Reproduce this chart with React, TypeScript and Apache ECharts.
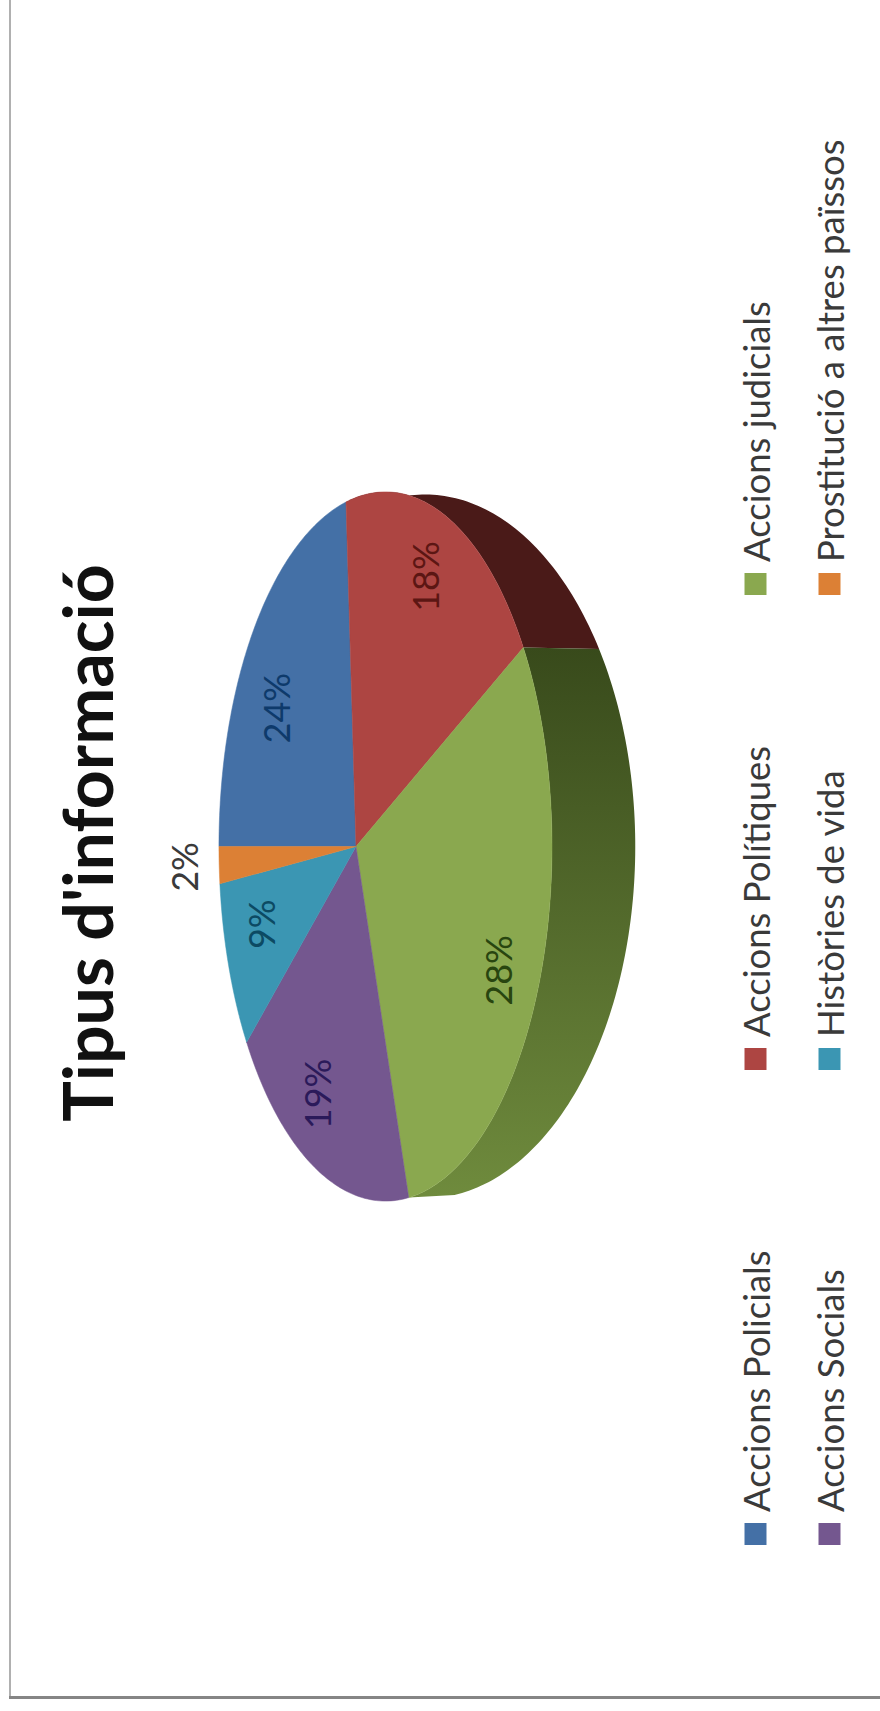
import React, { useEffect, useRef } from "react";
import * as echarts from "echarts";

const titleText = "Tipus d'informació";
const categories = [
  "Accions Policials",
  "Accions Polítiques",
  "Accions judicials",
  "Accions Socials",
  "Històries de vida",
  "Prostitució a altres païssos",
];
const legendNames = [
  "Accions Policials",
  "Accions Socials",
  "Accions Polítiques",
  "Històries de vida",
  "Accions judicials",
  "Prostitució a altres païssos",
];
const shareValues = [24, 18, 28, 19, 9, 2];
const sliceColors = ["#4470A6", "#AD4542", "#8AA84F", "#74578F", "#3B96B3", "#DC8035"];
const labelColors = ["#0E3A6B", "#5C1613", "#28450F", "#2B1A5A", "#0C4A63", "#3A3A3A"];
const labelNudges = [[-25, 0], [25, 7], [-14, 14], [-5, -6], [15, 4], [-6, -65]];
const FONT = "Lato, Carlito, sans-serif";

// projection of the disc, in the un-rotated chart's coordinates
const CU = 864.5, CV = 356, AX = 349, BX = 161.3, PERSP = 0.177;
const WALL_SHIFT = 32, WALL_SCALE_U = 0.9926, WALL_SCALE_V = 1.2616;
const RAD = Math.PI / 180;
const total = shareValues.reduce((s, v) => s + v, 0);

function project(deg: number, r: number, shift = 0, su = 1, sv = 1): number[] {
  const a = Math.sin(deg * RAD) * r;
  const b = -Math.cos(deg * RAD) * r;
  const w = 1 - PERSP * b;
  return [CU + (su * AX * a) / w, CV + shift + (sv * BX * b) / w];
}
function arc(from: number, to: number, r: number, shift = 0, su = 1, sv = 1): number[][] {
  const n = Math.max(2, Math.ceil(to - from));
  const pts: number[][] = [];
  for (let i = 0; i <= n; i++) pts.push(project(from + ((to - from) * i) / n, r, shift, su, sv));
  return pts;
}

function renderSlice(index: number, value: number) {
  const before = shareValues.slice(0, index).reduce((s, v) => s + v, 0);
  const from = (before / total) * 360;
  const to = ((before + value) / total) * 360;
  const children: any[] = [];
  if (index === 1 || index === 2) {
    const pts = arc(from, to, 1).concat(arc(from, to, 1, WALL_SHIFT, WALL_SCALE_U, WALL_SCALE_V).reverse());
    const fill =
      index === 1
        ? "#4A1A18"
        : new echarts.graphic.LinearGradient(0, 0, 1, 0, [
            { offset: 0, color: "#6F8B3D" },
            { offset: 1, color: "#384A1B" },
          ]);
    children.push({ type: "polygon", shape: { points: pts }, style: { fill } });
  }
  children.push({
    type: "polygon",
    shape: { points: [[CU, CV], ...arc(from, to, 1)] },
    style: { fill: sliceColors[index], stroke: sliceColors[index], lineWidth: 0.5 },
  });
  const p = project((from + to) / 2, 0.75);
  children.push({
    type: "text",
    x: p[0] + labelNudges[index][0],
    y: p[1] + labelNudges[index][1],
    style: {
      text: Math.round((value / total) * 100) + "%",
      fill: labelColors[index],
      font: `36px ${FONT}`,
      align: "center",
      verticalAlign: "middle",
    },
  });
  return { type: "group", children };
}

const legendColumns = [166, 641, 1116];

export default function App() {
  const ref = useRef<HTMLDivElement>(null);
  useEffect(() => {
    const chart = echarts.init(ref.current!, null, { renderer: "svg" });
    chart.setOption({
      animation: false,
      backgroundColor: "#ffffff",
      color: sliceColors,
      title: {
        text: titleText,
        left: 868,
        top: 52,
        textAlign: "center",
        padding: 0,
        textStyle: { fontFamily: FONT, fontWeight: "bold", fontSize: 68, color: "#111111" },
      },
      legend: legendColumns.map((left, c) => ({
        orient: "vertical",
        left,
        top: 737,
        padding: 0,
        data: legendNames.slice(c * 2, c * 2 + 2),
        icon: "rect",
        itemWidth: 22,
        itemHeight: 22,
        itemGap: 37,
        textStyle: { fontFamily: FONT, fontSize: 36.5, color: "#3A3A3A", padding: [0, 0, 0, 6] },
      })),
      graphic: [
        { type: "rect", shape: { x: 12, y: 9, width: 1699, height: 2 }, style: { fill: "#B0B0B0" } },
        { type: "rect", shape: { x: 12, y: 9, width: 3, height: 871 }, style: { fill: "#858585" } },
      ],
      series: categories.map((name, i) => ({
        type: "custom",
        name,
        coordinateSystem: "none",
        silent: true,
        itemStyle: { color: sliceColors[i] },
        data: [shareValues[i]],
        renderItem: (_p: any, api: any) => renderSlice(i, api.value(0)),
      })),
    });
    return () => chart.dispose();
  }, []);
  return (
    <div style={{ position: "absolute", left: 0, top: 0, width: 880, height: 1711, overflow: "hidden", background: "#fff" }}>
      <div
        ref={ref}
        style={{
          position: "absolute",
          left: 0,
          top: 0,
          width: 1711,
          height: 880,
          transformOrigin: "0 0",
          transform: "translate(0px, 1711px) rotate(-90deg)",
        }}
      />
    </div>
  );
}
